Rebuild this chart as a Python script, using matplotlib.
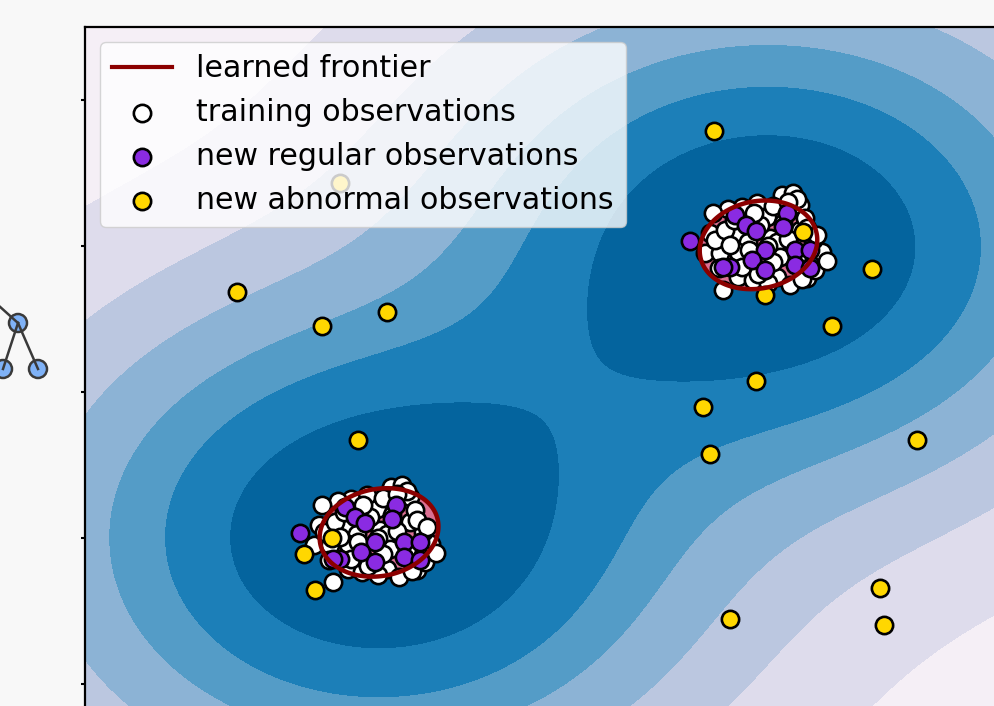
import numpy as np
import matplotlib

matplotlib.use("Agg")
import matplotlib.pyplot as plt
from matplotlib.lines import Line2D
from matplotlib.patches import Circle

# the two training blobs share one offset pattern around each centre
centers = [(2.0, 2.0), (-2.0, -2.0)]
# centres of the tight part of the frontier (pulled a bit off the blobs)
frontier_centers = [(1.90, 2.10), (-2.05, -1.94)]

train_dx = [0.14, 0.25, -0.11, -0.27, -0.41, -0.57, -0.01, 0.33, -0.60, -0.65,
            -0.49, -0.55, -0.46, -0.31, -0.16, 0.09, 0.22, 0.40, 0.48, 0.55,
            0.46, -0.32, -0.21, 0.02, 0.09, -0.14, 0.12, -0.31, -0.27, -0.08,
            0.33, 0.38, -0.44, -0.39, 0.00, 0.20, 0.30, -0.20, 0.05, 0.15,
            -0.15, 0.05, -0.35, 0.40, 0.50, -0.50, 0.35, 0.00, -0.10, 0.60,
            0.30, 0.20]
train_dy = [0.70, 0.73, 0.59, 0.53, 0.51, 0.45, 0.40, 0.56, 0.18, -0.10,
            -0.10, 0.08, -0.60, -0.42, -0.47, -0.42, -0.53, -0.44, -0.33, -0.08,
            0.08, 0.12, 0.05, 0.11, 0.05, -0.29, -0.15, -0.08, -0.29, 0.29,
            0.22, 0.38, 0.22, 0.01, 0.00, 0.10, -0.15, -0.05, -0.22, 0.32,
            0.45, 0.55, 0.35, 0.25, 0.15, -0.30, -0.45, -0.50, -0.38, -0.20,
            0.65, 0.60]

test_dx = [-0.80, -0.34, -0.23, -0.13, 0.19, 0.15, -0.03, -0.17, -0.39, -0.46,
           -0.03, 0.27, 0.43, 0.27, 0.43]
test_dy = [0.07, 0.42, 0.29, 0.21, 0.45, 0.26, -0.05, -0.19, -0.29, -0.29,
           -0.33, -0.05, -0.05, -0.26, -0.30]

outlier_x = [1.44, -3.44, -2.57, -1.91, -2.20, 3.06, 2.65, 1.88, 1.33, 1.40,
             3.52, 3.15, 3.19, 1.61, -2.39, -2.76, -2.64, -2.47, 2.36, 1.97]
outlier_y = [3.58, 1.37, 0.90, 1.10, -0.66, 1.68, 0.90, 0.15, -0.21, -0.85,
             -0.66, -2.68, -3.19, -3.11, 2.86, -2.22, -2.71, -2.00, 2.19, 1.33]

# decision surface: a wide rbf bump per blob plus a narrow tilted one
# that shapes the frontier; band edges
gamma = 0.125
narrow_gamma, narrow_weight, tilt = 2.0, 0.15, 0.15
band_levels = [0.0, 0.027, 0.11, 0.23, 0.39, 0.555, 0.758, 1.05]
frontier = 1.05

X_train = np.array([(cx + dx, cy + dy) for cx, cy in centers
                    for dx, dy in zip(train_dx, train_dy)])
X_test = np.array([(cx + dx, cy + dy) for cx, cy in centers
                   for dx, dy in zip(test_dx, test_dy)])

xx, yy = np.meshgrid(np.linspace(-5, 5, 600), np.linspace(-5, 5, 600))
Z = np.zeros_like(xx)
for (cx, cy), (fx, fy) in zip(centers, frontier_centers):
    Z += np.exp(-gamma * ((xx - cx) ** 2 + (yy - cy) ** 2))
    dx, dy = xx - fx, yy - fy
    Z += narrow_weight * np.exp(-narrow_gamma * (dx ** 2 + dy ** 2 - 2 * tilt * dx * dy))

fig = plt.figure(figsize=(9.95, 7.06), dpi=100, facecolor="#f8f8f8")
ax = fig.add_axes([85 / 995, -51 / 706, 976 / 995, 730 / 706])

band_colors = plt.cm.PuBu(np.linspace(1 / 16, 13 / 16, 7))
ax.contourf(xx, yy, Z, levels=band_levels, colors=band_colors)
ax.contourf(xx, yy, Z, levels=[frontier, Z.max() + 1], colors="palevioletred")
ax.contour(xx, yy, Z, levels=[frontier], colors="darkred", linewidths=3.2)

s = 155
b1 = ax.scatter(X_train[:, 0], X_train[:, 1], c="white", s=s, edgecolors="k", linewidths=1.9)
b2 = ax.scatter(X_test[:, 0], X_test[:, 1], c="blueviolet", s=s, edgecolors="k", linewidths=1.9)
c = ax.scatter(outlier_x, outlier_y, c="gold", s=s, edgecolors="k", linewidths=1.9)

ax.set_xlim(-5, 5)
ax.set_ylim(-5, 5)
ax.set_yticks([-4, -2, 0, 2, 4])
ax.set_yticklabels([])
ax.set_xticks([])
ax.tick_params(axis="y", length=3, width=1.5)
for sp in ax.spines.values():
    sp.set_linewidth(1.6)

ax.legend(
    [Line2D([], [], color="darkred", lw=3), b1, b2, c],
    ["learned frontier", "training observations",
     "new regular observations", "new abnormal observations"],
    loc="upper left", fontsize=21.6,
)

# bit of the page sidebar peeking in at the left
to_in = lambda px, py: (px / 100, (706 - py) / 100)
icon_nodes = [(18, 323), (3, 369), (38, 369)]
for (x0, y0), (x1, y1) in [((-2, 305), (18, 323)), ((18, 323), (3, 369)), ((18, 323), (38, 369))]:
    fig.add_artist(Line2D(*zip(to_in(x0, y0), to_in(x1, y1)), transform=fig.dpi_scale_trans,
                          color="#3a3a3a", lw=1.8))
for nx, ny in icon_nodes:
    fig.add_artist(Circle(to_in(nx, ny), 0.09, transform=fig.dpi_scale_trans,
                          facecolor="#7fb2f7", edgecolor="#3a3a3a", lw=1.8))

fig.savefig("out.png", dpi=100, facecolor=fig.get_facecolor())
